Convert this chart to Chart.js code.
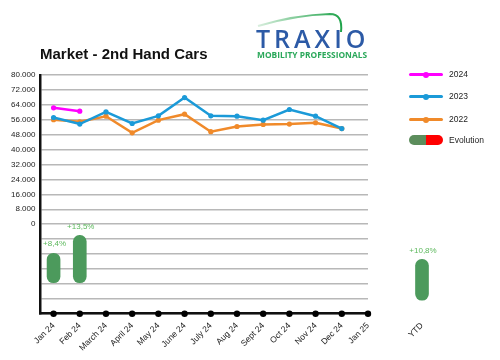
<!DOCTYPE html>
<html>
<head>
<meta charset="utf-8">
<script src="https://cdn.jsdelivr.net/npm/chart.js@4/dist/chart.umd.min.js"></script>
<style>
  html, body { margin: 0; padding: 0; background: #fff; }
  body { width: 500px; height: 360px; position: relative; overflow: hidden; font-family: "Liberation Sans", Arial, sans-serif; }
  #main { position: absolute; left: 0; top: 0; }
  #ytd { position: absolute; left: 377px; top: 0; }
  .title { position: absolute; left: 40px; top: 45px; font-size: 15px; font-weight: bold; color: #111; white-space: nowrap; }
  .logo { position: absolute; left: 250px; top: 5px; width: 125px; height: 55px; }
  .lg { position: absolute; left: 409px; font-size: 8.5px; color: #222; }
  .lg .ln { position: absolute; left: 0; width: 34px; height: 3px; border-radius: 2px; }
  .lg .dt { position: absolute; left: 14px; width: 6px; height: 6px; border-radius: 3px; }
  .lg .tx { position: absolute; left: 40px; white-space: nowrap; }
  .pill { position: absolute; left: 0; width: 34px; height: 10px; border-radius: 5px; overflow: hidden; }
  .pill span { position: absolute; top: 0; height: 10px; width: 17px; }
</style>
</head>
<body>
<canvas id="main" width="500" height="360"></canvas>
<canvas id="ytd" width="90" height="360"></canvas>
<div class="title">Market - 2nd Hand Cars</div>
<svg class="logo" viewBox="0 0 125 55" xmlns="http://www.w3.org/2000/svg">
  <defs>
    <linearGradient id="sw" x1="0" x2="1" y1="0" y2="0">
      <stop offset="0" stop-color="#d8eedd"/>
      <stop offset="1" stop-color="#1fa34a"/>
    </linearGradient>
  </defs>
  <path d="M8,21 Q45,10 80,9 Q93,9 91,27" fill="none" stroke="url(#sw)" stroke-width="2"/>
  <text x="6" y="43" font-family="Open Sans, Liberation Sans, sans-serif" font-weight="600" font-size="25" fill="#2c5aa6" letter-spacing="4">TRAXIO</text>
  <text x="7" y="53" font-family="Open Sans, Liberation Sans, sans-serif" font-weight="700" font-size="8.4" fill="#2aa85a">MOBILITY PROFESSIONALS</text>
</svg>
<div class="lg" style="top:68px;"><div class="ln" style="top:5px;background:#ff00ff"></div><div class="dt" style="top:3.5px;background:#ff00ff"></div><div class="tx" style="top:1px">2024</div></div>
<div class="lg" style="top:90px;"><div class="ln" style="top:5px;background:#1b9ad8"></div><div class="dt" style="top:3.5px;background:#1b9ad8"></div><div class="tx" style="top:1px">2023</div></div>
<div class="lg" style="top:113px;"><div class="ln" style="top:5px;background:#f08a2a"></div><div class="dt" style="top:3.5px;background:#f08a2a"></div><div class="tx" style="top:1px">2022</div></div>
<div class="lg" style="top:135px;"><div class="pill" style="top:0px"><span style="left:0;background:#5c8d5c"></span><span style="left:17px;background:#ff0000"></span></div><div class="tx" style="top:0px">Evolution</div></div>
<script>
// ---- data ----
const CATEGORIES = ["Jan 24","Feb 24","March 24","April 24","May 24","June 24","July 24","Aug 24","Sept 24","Oct 24","Nov 24","Dec 24","Jan 25"];
const SERIES_2024 = [62400, 60600];
const SERIES_2023 = [57200, 53700, 60200, 54000, 58100, 67900, 58100, 57900, 55800, 61500, 57900, 51300];
const SERIES_2022 = [56000, 54900, 57900, 49000, 55800, 59000, 49600, 52400, 53500, 53700, 54400, 51300];
const EVOLUTION = [8.4, 13.5];          // % per month
const YTD_LABEL = ["YTD"];
const YTD_EVOLUTION = [10.8];           // %
const Y_TICKS = [0, 8000, 16000, 24000, 32000, 40000, 48000, 56000, 64000, 72000, 80000];
const Y_MIN = -48000, Y_MAX = 80000, Y_STEP = 8000;

const FONT = "'Liberation Sans', Arial, sans-serif";
const toXY = arr => arr.map((v, i) => ({ x: i, y: v }));
const fmtPct = v => '+' + v.toFixed(1).replace('.', ',') + '%';

const evoLabelPlugin = {
  id: 'evoLabels',
  afterDatasetsDraw(chart) {
    const ctx = chart.ctx;
    chart.data.datasets.forEach((ds, di) => {
      if (!ds.evoValues) return;
      const meta = chart.getDatasetMeta(di);
      meta.data.forEach((el, i) => {
        ctx.save();
        ctx.font = '8px ' + FONT;
        ctx.fillStyle = '#5cb85c';
        ctx.textAlign = 'center';
        ctx.textBaseline = 'bottom';
        ctx.fillText(fmtPct(ds.evoValues[i]), el.x + 1, el.y - 5);
        ctx.restore();
      });
    });
  }
};

const lineDs = (label, data, color) => ({
  type: 'line', label, data: toXY(data), borderColor: color, backgroundColor: color,
  borderWidth: 2.5, pointRadius: 2.6, pointBackgroundColor: color, pointBorderWidth: 0,
  tension: 0, yAxisID: 'y', order: 1
});

new Chart(document.getElementById('main'), {
  data: {
    datasets: [
      lineDs('2024', SERIES_2024, '#ff00ff'),
      lineDs('2023', SERIES_2023, '#1b9ad8'),
      lineDs('2022', SERIES_2022, '#f08a2a'),
      {
        type: 'bar', label: 'Evolution', yAxisID: 'y2',
        data: EVOLUTION.map((v, i) => ({ x: i, y: [0, v] })),
        evoValues: EVOLUTION,
        backgroundColor: '#4c9a5c', barThickness: 13, borderRadius: 7, borderSkipped: false, order: 2
      },
      {
        type: 'line', label: 'axisDots', yAxisID: 'y',
        data: CATEGORIES.map((c, i) => ({ x: i, y: Y_MIN })),
        showLine: false, pointRadius: 3.2, pointBackgroundColor: '#000', pointBorderWidth: 0, clip: false, order: 0
      }
    ]
  },
  options: {
    responsive: false, animation: false,
    layout: { padding: { left: 6, right: 132, top: 75, bottom: 0 } },
    plugins: { legend: { display: false }, tooltip: { enabled: false } },
    scales: {
      x: {
        type: 'linear', offset: false, min: -0.5, max: CATEGORIES.length - 1,
        afterBuildTicks: s => { s.ticks = CATEGORIES.map((c, i) => ({ value: i })); },
        grid: { display: false, drawTicks: false, offset: false },
        border: { display: true, color: '#111', width: 2.5 },
        ticks: {
          autoSkip: false, minRotation: 45, maxRotation: 45, padding: 7,
          color: '#222', font: { size: 8.5, family: FONT },
          callback: v => CATEGORIES[v] ?? ''
        }
      },
      y: {
        min: Y_MIN, max: Y_MAX,
        afterBuildTicks: s => { const t = []; for (let v = Y_MIN; v <= Y_MAX; v += Y_STEP) t.push({ value: v }); s.ticks = t; },
        grid: { color: '#b8b8b8', lineWidth: 1.5, drawTicks: false },
        border: { display: true, color: '#111', width: 2.5 },
        ticks: {
          padding: 5, color: '#222', font: { size: 8, family: FONT },
          callback: v => Y_TICKS.includes(v) ? (v === 0 ? '0' : (v / 1000) + '.000') : ''
        }
      },
      y2: { display: false, min: -8.8, max: 59.1 }
    }
  },
  plugins: [evoLabelPlugin]
});

new Chart(document.getElementById('ytd'), {
  data: {
    labels: YTD_LABEL,
    datasets: [{
      type: 'bar', label: 'YTD',
      data: YTD_EVOLUTION.map(v => [0, v]),
      evoValues: YTD_EVOLUTION,
      backgroundColor: '#4c9a5c', barThickness: 13, borderRadius: 7, borderSkipped: false
    }]
  },
  options: {
    responsive: false, animation: false,
    layout: { padding: { left: 10, right: 10, top: 75, bottom: 15 } },
    plugins: { legend: { display: false }, tooltip: { enabled: false } },
    scales: {
      x: {
        grid: { display: false, drawTicks: false }, border: { display: false },
        ticks: { minRotation: 45, maxRotation: 45, padding: 5, color: '#222', font: { size: 8.5, family: FONT } }
      },
      y: { display: false, min: -4.1, max: 59.6 }
    }
  },
  plugins: [evoLabelPlugin]
});
</script>
</body>
</html>
